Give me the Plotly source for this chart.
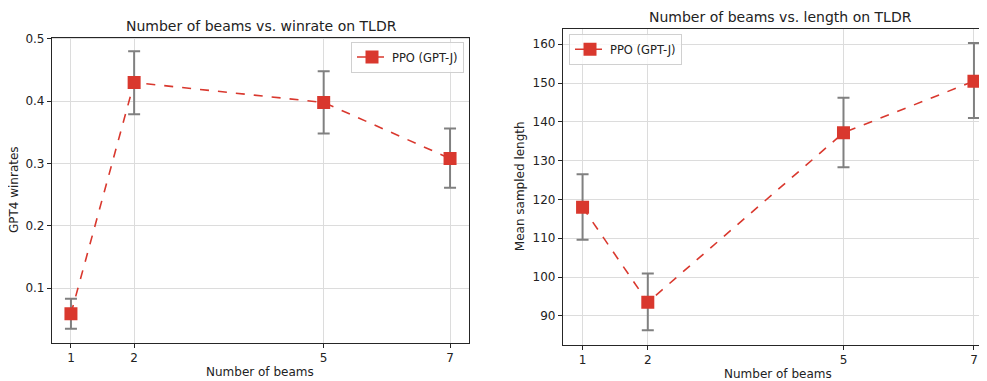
import plotly.graph_objects as go

beams = [1, 2, 5, 7]
winrate = [0.059, 0.430, 0.398, 0.308]
winrate_lo = [0.035, 0.379, 0.348, 0.261]
winrate_hi = [0.083, 0.480, 0.448, 0.356]
length = [118.0, 93.5, 137.2, 150.5]
length_lo = [109.6, 86.3, 128.3, 141.0]
length_hi = [126.5, 100.9, 146.2, 160.3]
series_name = "PPO (GPT-J)"

OFF = 8  # browser body margin
W, H = 987 - OFF, 381 - OFF
RED = "#d9382e"
GREY = "#808080"
FONT = "DejaVu Sans"


def px(x):
    return (x - OFF) / W


def py(y):
    return 1 - (y - OFF) / H


def trace(y, lo, hi, xa, ya, legend):
    return go.Scatter(
        x=beams, y=y, xaxis=xa, yaxis=ya, name=series_name, legend=legend,
        mode="lines+markers",
        line=dict(color=RED, width=1.6, dash="dash"),
        marker=dict(symbol="square", size=13, color=RED),
        error_y=dict(type="data", symmetric=False,
                     array=[h - v for h, v in zip(hi, y)],
                     arrayminus=[v - l for v, l in zip(y, lo)],
                     color=GREY, thickness=2, width=6),
    )


fig = go.Figure()
fig.add_trace(trace(winrate, winrate_lo, winrate_hi, "x", "y", "legend"))
fig.add_trace(trace(length, length_lo, length_hi, "x2", "y2", "legend2"))

axis_common = dict(
    showgrid=True, gridcolor="#dcdcdc", gridwidth=1,
    showline=True, linecolor="#262626", linewidth=1.2,
    ticks="outside", ticklen=4, tickcolor="#262626",
    tickfont=dict(family=FONT, size=12, color="#222"),
    zeroline=False,
)

legend_common = dict(
    bgcolor="rgba(255,255,255,0.8)", bordercolor="#d0d0d0", borderwidth=1,
    font=dict(family=FONT, size=11.5, color="#222"),
    itemwidth=30, tracegroupgap=0,
)

fig.update_layout(
    width=W, height=H,
    margin=dict(l=0, r=0, t=0, b=0),
    paper_bgcolor="white", plot_bgcolor="white",
    font=dict(family=FONT, color="#222"),
    xaxis=dict(domain=[px(52), px(469)], range=[0.7, 7.3], tickvals=beams,
               anchor="y", mirror=True, **axis_common),
    yaxis=dict(domain=[py(342), py(32)], range=[0.0127, 0.502],
               tickvals=[0.1, 0.2, 0.3, 0.4, 0.5], ticktext=["0.1", "0.2", "0.3", "0.4", "0.5"],
               anchor="x", mirror=True, **axis_common),
    xaxis2=dict(domain=[px(563), 1.0], range=[0.7, 7.2], tickvals=beams,
                anchor="y2", mirror=True, **axis_common),
    yaxis2=dict(domain=[py(344), py(23)], range=[82.6, 164.0],
                tickvals=[90, 100, 110, 120, 130, 140, 150, 160],
                anchor="x2", mirror=False, **axis_common),
    legend=dict(x=px(464), xanchor="right", y=py(36), yanchor="top", **legend_common),
    legend2=dict(x=px(569), xanchor="left", y=py(28), yanchor="top", **legend_common),
    showlegend=True,
)

ann = [
    dict(text="Number of beams vs. winrate on TLDR", x=px(261), y=py(20), size=14),
    dict(text="Number of beams vs. length on TLDR", x=px(780), y=py(11), size=14),
    dict(text="Number of beams", x=px(260), y=py(372), size=12),
    dict(text="Number of beams", x=px(778), y=py(374), size=12),
]
for a in ann:
    fig.add_annotation(text=a["text"], x=a["x"], y=a["y"], xref="paper", yref="paper",
                       showarrow=False, xanchor="center", yanchor="middle",
                       font=dict(family=FONT, size=a["size"], color="#222"))
fig.add_annotation(text="GPT4 winrates", x=px(14), y=py(187), xref="paper", yref="paper",
                   showarrow=False, textangle=-90, xanchor="center", yanchor="middle",
                   font=dict(family=FONT, size=12, color="#222"))
fig.add_annotation(text="Mean sampled length", x=px(520), y=py(183), xref="paper", yref="paper",
                   showarrow=False, textangle=-90, xanchor="center", yanchor="middle",
                   font=dict(family=FONT, size=12, color="#222"))

fig.write_html("out.html")
